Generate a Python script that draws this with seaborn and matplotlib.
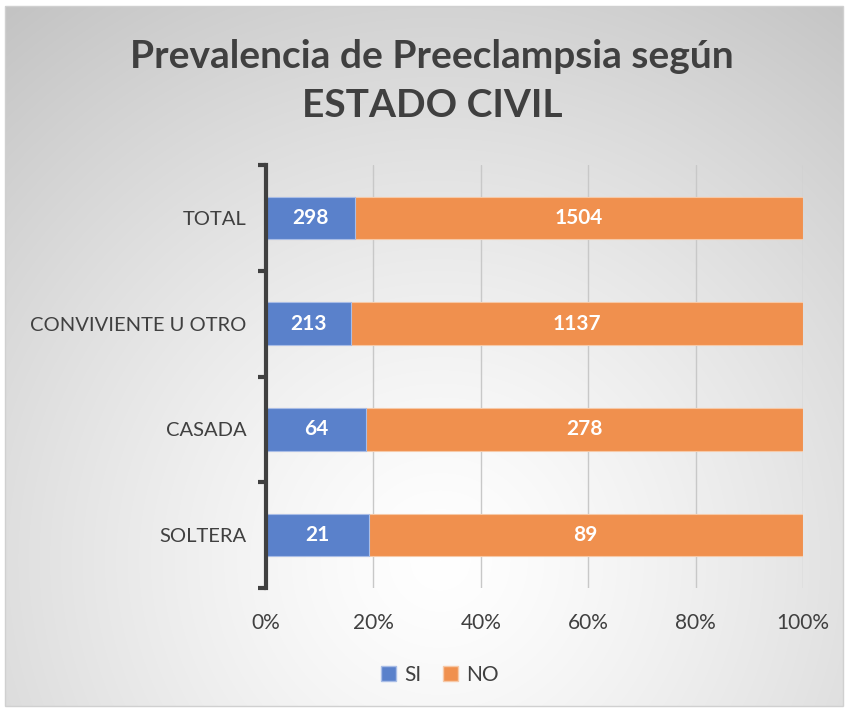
import numpy as np
import pandas as pd
import matplotlib
matplotlib.use("Agg")
import matplotlib.pyplot as plt
import seaborn as sns
from matplotlib.patches import Rectangle, Patch

categories = ["TOTAL", "CONVIVIENTE U OTRO", "CASADA", "SOLTERA"]
si_values = [298, 213, 64, 21]
no_values = [1504, 1137, 278, 89]
x_tick_labels = ["0%", "20%", "40%", "60%", "80%", "100%"]
title_text = "Prevalencia de Preeclampsia según\nESTADO CIVIL"

df = pd.DataFrame({"cat": categories, "SI": si_values, "NO": no_values})
df["tot"] = df["SI"] + df["NO"]
df["si_pct"] = df["SI"] / df["tot"] * 100
df["all_pct"] = 100.0

sns.set_theme(style="white")
plt.rcParams["font.family"] = ["Lato", "DejaVu Sans"]

blue = "#5A81CB"
orange = "#F0904E"
text_col = "#404040"

fig = plt.figure(figsize=(8.47, 7.09), dpi=100)

# radial gradient background
bg = fig.add_axes([0, 0, 1, 1], zorder=-10)
H, W = 709, 847
yy, xx = np.mgrid[0:H, 0:W]
cx, cy = 440, 560
r = np.sqrt(((xx - cx) / 1.0) ** 2 + ((yy - cy) / 1.0) ** 2)
r = r / r.max()
val = 1.0 - 0.24 * np.clip(r, 0, 1) ** 1.3
img = np.dstack([val, val, val])
img[:6, :, :] = 1.0
img[:, :5, :] = 1.0
img[:, -4:, :] = 1.0
img[-3:, :, :] = 1.0
bg.imshow(img, aspect="auto", extent=[0, W, H, 0])
bg.set_xlim(0, W)
bg.set_ylim(H, 0)
bg.axis("off")
bg.add_patch(Rectangle((5, 6), W - 9, H - 9, fill=False, edgecolor="#d0d0d0", lw=1))

ax = fig.add_axes([266 / 847, 1 - 588 / 709, (803 - 266) / 847, (588 - 165) / 709])
ax.patch.set_alpha(0)

sns.barplot(data=df, y="cat", x="all_pct", color=orange, orient="h", width=0.4,
            ax=ax, edgecolor="#f6c9a8", linewidth=0.8, saturation=1, zorder=3)
sns.barplot(data=df, y="cat", x="si_pct", color=blue, orient="h", width=0.4,
            ax=ax, edgecolor="#a9bde6", linewidth=0.8, saturation=1, zorder=4)

for i, row in df.iterrows():
    ax.text(row["si_pct"] / 2, i, str(row["SI"]), ha="center", va="center",
            color="white", fontsize=15, fontweight="bold", zorder=6)
    ax.text(row["si_pct"] + (100 - row["si_pct"]) / 2, i, str(row["NO"]),
            ha="center", va="center", color="white", fontsize=15,
            fontweight="bold", zorder=6)

ax.set_xlim(0, 100)
ax.set_ylim(3.5, -0.5)
ax.set_xticks([0, 20, 40, 60, 80, 100])
ax.set_xticklabels(x_tick_labels, fontsize=15, color=text_col)
ax.set_xlabel("")
ax.set_ylabel("")
ax.tick_params(axis="x", length=0, pad=18)
ax.tick_params(axis="y", which="major", length=0, labelsize=14.5, labelcolor=text_col, pad=14)
ax.set_yticks([-0.5, 0.5, 1.5, 2.5, 3.5], minor=True)
ax.tick_params(axis="y", which="minor", left=True, length=6, width=3, color="#404040", direction="out")
ax.grid(axis="x", color="#c8c8c8", lw=1, zorder=0)
ax.set_axisbelow(True)
for s in ["top", "right", "bottom"]:
    ax.spines[s].set_visible(False)
ax.spines["left"].set_color("#404040")
ax.spines["left"].set_linewidth(3)
ax.spines["left"].set_zorder(7)

fig.text(0.51, 1 - 81 / 709, title_text, ha="center", va="center",
         fontsize=28, fontweight="bold", color=text_col, linespacing=1.45)

handles = [Patch(facecolor=blue, edgecolor="#a9bde6", label="SI"),
           Patch(facecolor=orange, edgecolor="#f6c9a8", label="NO")]
fig.legend(handles=handles, loc="center", bbox_to_anchor=(440 / 847, 1 - 675 / 709),
           ncol=2, frameon=False, fontsize=15, handlelength=0.75, handleheight=0.75,
           handletextpad=0.4, columnspacing=1.0, labelcolor=text_col)

fig.savefig("out.png", dpi=100)
